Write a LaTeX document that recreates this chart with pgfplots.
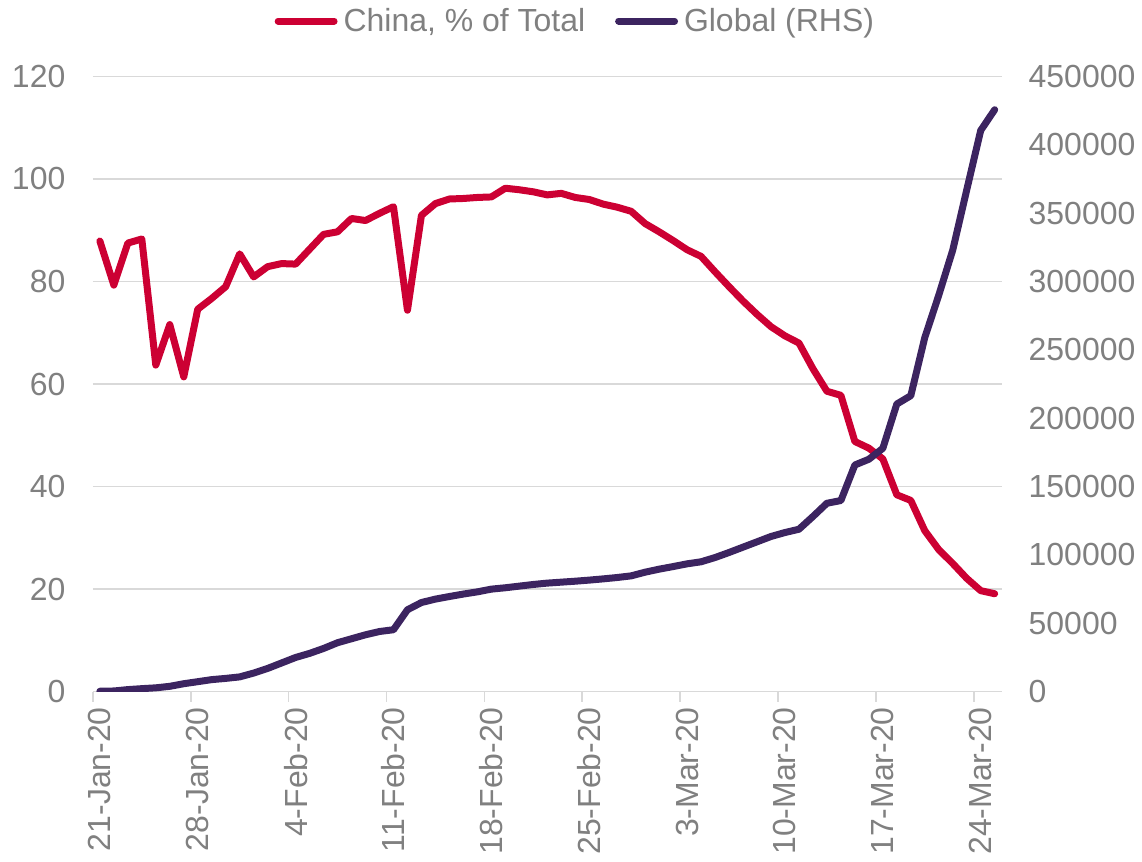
\documentclass[border=0pt]{standalone}
\usepackage{fontspec}
\setmainfont{Liberation Sans}
\usepackage{pgfplots}
\pgfplotsset{compat=1.18}

\definecolor{chinared}{RGB}{204,0,51}
\definecolor{globalpurple}{RGB}{60,36,96}
\definecolor{txtgray}{RGB}{128,128,128}
\definecolor{gridgray}{RGB}{217,217,217}

% day 0 = 21-Jan-20
\pgfplotstableread{
day china global
0 87.9 300
1 79.3 500
2 87.5 1500
3 88.3 2200
4 63.7 2800
5 71.6 3900
6 61.4 5800
7 74.6 7300
8 76.7 8800
9 79.0 9700
10 85.4 10800
11 80.9 13600
12 82.9 17000
13 83.5 21000
14 83.4 25000
15 86.3 28000
16 89.2 31600
17 89.7 35800
18 92.3 38700
19 91.9 41600
20 93.3 44000
21 94.6 45300
22 74.4 59900
23 92.9 65200
24 95.2 67700
25 96.1 69600
26 96.2 71400
27 96.4 73000
28 96.5 75000
29 98.2 76000
30 97.9 77200
31 97.5 78400
32 96.9 79400
33 97.2 80100
34 96.4 80800
35 96.0 81600
36 95.1 82500
37 94.5 83500
38 93.7 84700
39 91.3 87400
40 89.7 89600
41 88.0 91500
42 86.2 93500
43 84.9 95000
44 81.9 98100
45 79.0 101800
46 76.2 105700
47 73.6 109600
48 71.2 113500
49 69.4 116400
50 68.0 118800
51 63.0 128100
52 58.6 137800
53 57.8 139800
54 48.8 165800
55 47.5 170000
56 45.4 178000
57 38.4 210400
58 37.3 216500
59 31.4 259000
60 27.7 290000
61 25.0 323000
62 22.1 367000
63 19.7 410500
64 19.1 425700
}\datatable

\pgfplotsset{
  base/.style={
    scale only axis, width=455pt, height=308pt,
    xmin=-0.5, xmax=64.5,
    ticklabel style={font=\fontsize{16}{19}\selectfont, text=txtgray},
    /pgf/number format/assume math mode=true,
    /pgf/number format/fixed,
    /pgf/number format/precision=0,
    /pgf/number format/1000 sep={},
    every major tick/.append style={draw=none},
    scaled y ticks=false,
  }
}

\begin{document}
\begin{tikzpicture}
\begin{axis}[base, name=a,
  ymin=0, ymax=120, ytick={0,20,...,120},
  axis y line*=left, y axis line style={draw=none},
  axis x line*=bottom, x axis line style={gridgray, line width=0.8pt},
  ymajorgrids, grid style={gridgray, line width=0.8pt},
  yticklabel style={xshift=-6pt},
  xtick={0,7,...,63},
  xticklabels={21-Jan-20,28-Jan-20,4-Feb-20,11-Feb-20,18-Feb-20,25-Feb-20,3-Mar-20,10-Mar-20,17-Mar-20,24-Mar-20},
  xticklabel style={rotate=90, anchor=east},
  minor xtick={-0.5,6.5,...,62.5},
  tick align=outside, minor tick length=5pt,
  every minor x tick/.append style={gridgray, line width=0.8pt},
]
\addplot[chinared, line width=3.5pt, line join=round, line cap=round] table[x=day, y=china]{\datatable};
\end{axis}
\begin{axis}[base,
  ymin=0, ymax=450000, ytick={0,50000,...,450000},
  axis x line=none, axis y line*=right, y axis line style={draw=none},
  yticklabel style={xshift=10pt},
  legend style={at={(0.532,1)}, anchor=south, yshift=17pt, draw=none, fill=none,
    font=\fontsize{16}{19}\selectfont, text=txtgray,
    legend columns=-1, /tikz/every even column/.append style={column sep=13pt},
    /tikz/every odd column/.append style={column sep=1pt}},
  legend image code/.code={\draw[#1, line cap=round] (0pt,0pt) -- (28pt,0pt);},
]
\addlegendimage{chinared, line width=3.5pt}
\addlegendentry{China, \% of Total}
\addplot[globalpurple, line width=3.5pt, line join=round, line cap=round] table[x=day, y=global]{\datatable};
\addlegendentry{Global (RHS)}
\end{axis}
\path (a.south west) ++(-46.5pt,-84pt) (a.north east) ++(69.5pt,38pt);
\end{tikzpicture}
\end{document}
